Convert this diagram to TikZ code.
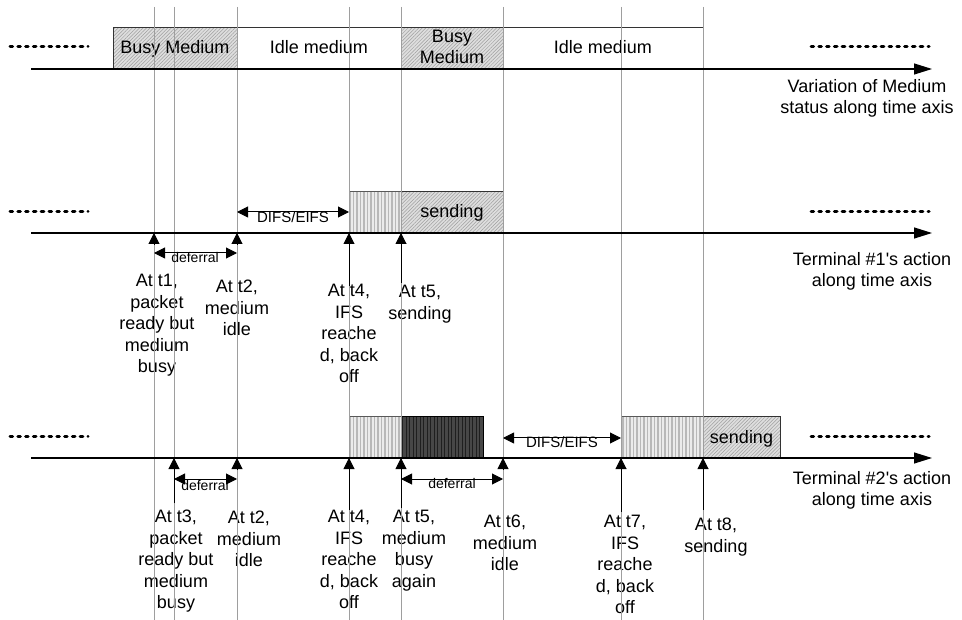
\documentclass[tikz,border=0pt]{standalone}
\usepackage{fontspec}
\setmainfont{Liberation Sans}
\usetikzlibrary{arrows.meta,patterns.meta}
\begin{document}
\begin{tikzpicture}[x=1pt,y=-1pt,
  gridline/.style={draw=black!38, line width=0.8pt},
  timeaxis/.style={draw=black, line width=1.2pt, -{Triangle[length=18pt,width=11pt]}},
  uparrow/.style={draw=black, line width=1pt, -{Triangle[length=11pt,width=11pt]}},
  spanarrow/.style={draw=black, line width=1pt, {Triangle[length=11pt,width=11pt]}-{Triangle[length=11pt,width=11pt]}},
  dotrow/.style={draw=black, line width=3pt, dash pattern=on 2.6pt off 5.2pt, line cap=round},
  lbl/.style={font=\fontsize{18}{21.5}\selectfont, align=center, inner sep=0pt, anchor=north},
  boxtext/.style={font=\fontsize{18}{21}\selectfont, align=center, inner sep=0pt, anchor=base},
  smalltext/.style={font=\fontsize{14}{16}\selectfont, inner sep=0pt, anchor=base},
  difstext/.style={font=\fontsize{15}{17}\selectfont, inner sep=0pt, anchor=base},
  idlebox/.style={draw=black!80, line width=1pt, fill=white},
  busybox/.style={draw=black!80, line width=1pt, preaction={fill=black!13},
    pattern={Lines[angle=45,distance=2.5pt,line width=0.5pt]}, pattern color=black!38},
  ifsbox/.style={draw=black!65, line width=1pt, preaction={fill=black!8},
    pattern={Lines[angle=90,distance=3.5pt,line width=1.2pt]}, pattern color=black!28},
  blockedbox/.style={draw=black, line width=1pt, preaction={fill=black!72},
    pattern={Lines[angle=90,distance=3.5pt,line width=1pt]}, pattern color=black!88},
]
\useasboundingbox (0,0) rectangle (962,620);
\fill[white] (0,0) rectangle (962,620);

% ---- medium status row ----
\draw[busybox] (113,28) rectangle (237,69);
\draw[idlebox] (237,28) rectangle (401,69);
\draw[busybox] (401,28) rectangle (503,69);
\draw[idlebox] (503,28) rectangle (703,69);
\node[boxtext] (bm1) at (175,54) {Busy Medium};
\node[boxtext] (im1) at (319,54) {Idle medium};
\node[lbl, font=\fontsize{18}{21}\selectfont] (bm2) at (452,30.1) {Busy\\Medium};
\node[boxtext] (im2) at (603,54) {Idle medium};

% ---- terminal #1 row ----
\draw[ifsbox] (349,192) rectangle (401,233);
\draw[busybox] (401,192) rectangle (503,233);
\node[boxtext] (snd1) at (452,217.5) {sending};

% ---- terminal #2 row ----
\draw[ifsbox] (349,417) rectangle (401,458);
\draw[blockedbox] (401,417) rectangle (483,458);
\draw[ifsbox] (621,417) rectangle (703,458);
\draw[busybox] (703,417) rectangle (780,458);
\node[boxtext] (snd2) at (741.5,443) {sending};

% ---- axis captions ----
\node[lbl, font=\fontsize{18}{21}\selectfont] (cap0) at (867,79.1) {Variation of Medium\\status along time axis};
\node[lbl, font=\fontsize{18}{21}\selectfont] (cap1) at (872,252.1) {Terminal \#1\textquotesingle s action\\along time axis};
\node[lbl, font=\fontsize{18}{21}\selectfont] (cap2) at (872,471.1) {Terminal \#2\textquotesingle s action\\along time axis};

% ---- event labels, terminal #1 ----
\node[lbl] (e1t1) at (157,274.1) {At t1,\\packet\\ready but\\medium\\busy};
\node[lbl] (e1t2) at (237,280.1) {At t2,\\medium\\idle};
\node[lbl] (e1t4) at (349,284.1) {At t4,\\IFS\\reache\\d, back\\off};
\node[lbl] (e1t5) at (420,285.1) {At t5,\\sending};

% ---- event labels, terminal #2 ----
\node[lbl] (e2t3) at (176,510.1) {At t3,\\packet\\ready but\\medium\\busy};
\node[lbl] (e2t2) at (249,511.1) {At t2,\\medium\\idle};
\node[lbl] (e2t4) at (349,510.1) {At t4,\\IFS\\reache\\d, back\\off};
\node[lbl] (e2t5) at (414,510.1) {At t5,\\medium\\busy\\again};
\node[lbl] (e2t6) at (505,515.1) {At t6,\\medium\\idle};
\node[lbl] (e2t7) at (625,515.1) {At t7,\\IFS\\reache\\d, back\\off};
\node[lbl] (e2t8) at (716,518.1) {At t8,\\sending};

% ---- time instants ----
\foreach \x in {154,174,237,349,401,503,621,703}
  \draw[gridline] (\x,7) -- (\x,620);

% ---- time axes ----
\coordinate (ax0a) at (31,69);  \coordinate (ax0b) at (932,69);
\coordinate (ax1a) at (31,233); \coordinate (ax1b) at (932,233);
\coordinate (ax2a) at (31,458); \coordinate (ax2b) at (932,458);
\draw[timeaxis] (ax0a) -- (ax0b);
\draw[timeaxis] (ax1a) -- (ax1b);
\draw[timeaxis] (ax2a) -- (ax2b);

% ---- continuation marks ----
\draw[dotrow] (10,47) -- (88,47);
\draw[dotrow] (811,47) -- (929,47);
\draw[dotrow] (10,212) -- (88,212);
\draw[dotrow] (811,212) -- (929,212);
\draw[dotrow] (10,437) -- (88,437);
\draw[dotrow] (811,437) -- (929,437);

% ---- event arrows, terminal #1 ----
\coordinate (p1t1) at (154,233); \coordinate (q1t1) at (154,245);
\coordinate (p1t2) at (237,233); \coordinate (q1t2) at (237,245);
\coordinate (p1t4) at (349,233); \coordinate (q1t4) at (349,286);
\coordinate (p1t5) at (401,233); \coordinate (q1t5) at (401,283);
\draw[uparrow] (q1t1) -- (p1t1);
\draw[uparrow] (q1t2) -- (p1t2);
\draw[uparrow] (q1t4) -- (p1t4);
\draw[uparrow] (q1t5) -- (p1t5);

% ---- event arrows, terminal #2 ----
\coordinate (p2t3) at (174,458); \coordinate (q2t3) at (174,503);
\coordinate (p2t2) at (237,458); \coordinate (q2t2) at (237,470);
\coordinate (p2t4) at (349,458); \coordinate (q2t4) at (349,510);
\coordinate (p2t5) at (401,458); \coordinate (q2t5) at (401,508);
\coordinate (p2t6) at (503,458); \coordinate (q2t6) at (503,470);
\coordinate (p2t7) at (621,458); \coordinate (q2t7) at (621,512);
\coordinate (p2t8) at (703,458); \coordinate (q2t8) at (703,510);
\foreach \n in {t3,t2,t4,t5,t6,t7,t8}
  \draw[uparrow] (q2\n) -- (p2\n);

% ---- intervals ----
\coordinate (d1a) at (237,212); \coordinate (d1b) at (349,212);
\draw[spanarrow] (d1a) -- (d1b);
\node[difstext] (d1l) at (293,223) {DIFS/EIFS};
\coordinate (f1a) at (154,253); \coordinate (f1b) at (237,253);
\draw[spanarrow] (f1a) -- (f1b);
\node[smalltext] (f1l) at (195,263) {deferral};

\coordinate (f2a) at (174,479); \coordinate (f2b) at (237,479);
\draw[spanarrow] (f2a) -- (f2b);
\node[smalltext] (f2l) at (205,490) {deferral};
\coordinate (f3a) at (401,479); \coordinate (f3b) at (503,479);
\draw[spanarrow] (f3a) -- (f3b);
\node[smalltext] (f3l) at (452,489) {deferral};
\coordinate (d2a) at (503,438); \coordinate (d2b) at (621,438);
\draw[spanarrow] (d2a) -- (d2b);
\node[difstext] (d2l) at (562,448) {DIFS/EIFS};
\end{tikzpicture}
\end{document}
